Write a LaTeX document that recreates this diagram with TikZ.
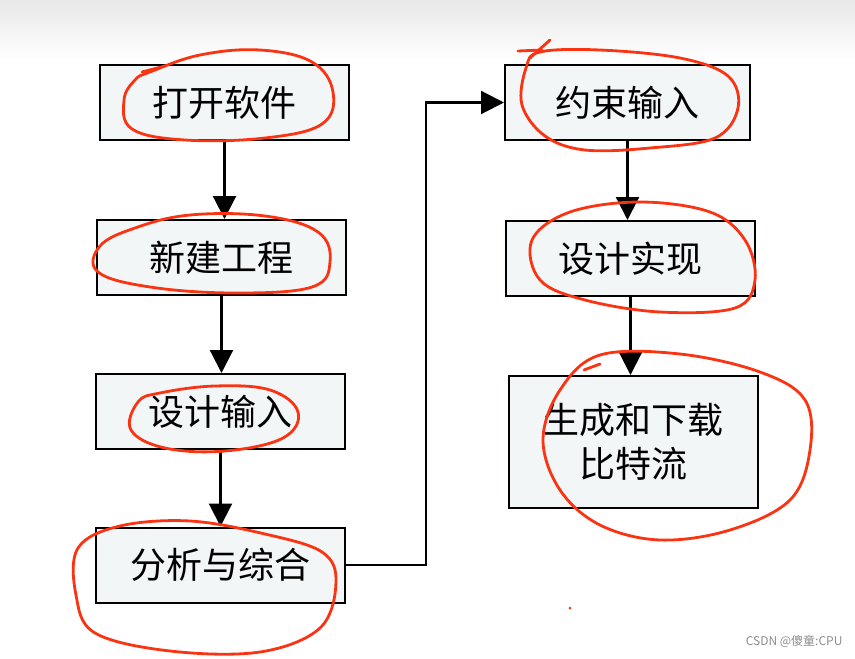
\documentclass[tikz,border=0pt]{standalone}
\usepackage{fontspec}
\setmainfont{Noto Sans CJK SC}
\newfontfamily\markfont{Noto Sans CJK SC}
\usetikzlibrary{positioning}
\usetikzlibrary{arrows.meta}
\tikzset{>={Triangle[width=23pt,length=23pt]}}
\definecolor{boxfill}{RGB}{243,246,247}
\definecolor{redink}{RGB}{250,52,18}
\definecolor{topgrey}{RGB}{232,232,232}

\begin{document}
\begin{tikzpicture}[x=1pt, y=-1pt,
    step box/.style={rectangle, draw=black, fill=boxfill, line width=2pt, minimum width=249pt, minimum height=75pt, font=\fontsize{36}{44}\selectfont, align=center},
    circling/.style={draw=redink, line width=2.8pt, line cap=round, line join=round},
    link/.style={->, line width=2.2pt} ]

    % page and grey band on top
    \useasboundingbox (0,0) rectangle (855,659);
    \shade[top color=topgrey, bottom color=white] (0,0) rectangle (855,60);

    %Nodes
    \node[step box] (open) at (224.5,102.5) {打开软件};
    \node[step box] (new_project) at (221.5,257.5) {新建工程};
    \node[step box] (design_input) at (220.5,411.5) {设计输入};
    \node[step box] (synthesis) at (220.5,565) {分析与综合};
    \node[step box, minimum width=245pt] (constraints) at (627.5,102.5) {约束输入};
    \node[step box] (implement) at (630.5,258.5) {设计实现};
    \node[step box, minimum height=132pt] (bitstream) at (633.5,442) {生成和下载\\比特流};

    %Lines
    \draw[link] (open.south) -- (open.south |- new_project.north);
    \draw[link] (new_project.south) -- (new_project.south |- design_input.north);
    \draw[link] (design_input.south) -- (design_input.south |- synthesis.north);
    \draw[link] (synthesis.east) -- ++(80,0) |- (constraints.west);
    \draw[link] (constraints.south) -- (constraints.south |- implement.north);
    \draw[link] (implement.south) -- (implement.south |- bitstream.north);

    % red marks
    \draw[circling] plot[smooth cycle, tension=0.65] coordinates {(150,72) (200,55) (260,50) (312,62) (333,92) (322,124) (265,138) (185,140) (132,129) (124,100) (135,80)};
    \draw[circling] (142,72) -- (165,66);
    \draw[circling] plot[smooth cycle, tension=0.65] coordinates {(135,228) (190,215) (265,216) (318,232) (330,262) (312,287) (235,293) (150,287) (98,272) (100,246)};
    \draw[circling] plot[smooth cycle, tension=0.65] coordinates {(160,393) (215,386) (270,390) (298,412) (283,438) (225,451) (165,448) (131,430) (138,402)};
    \draw[circling] plot[smooth cycle, tension=0.6] coordinates {(120,526) (190,521) (265,534) (322,552) (336,582) (320,628) (260,652) (170,651) (95,633) (76,595) (78,548)};
    \draw[circling] plot[smooth cycle, tension=0.6] coordinates {(540,52) (600,50) (680,58) (728,76) (738,108) (715,138) (650,148) (585,150) (545,136) (522,105) (526,68)};
    \draw[circling] (518,51) -- (542,50);
    \draw[circling] (530,58) -- (550,40);
    \draw[circling] plot[smooth cycle, tension=0.6] coordinates {(570,212) (640,202) (710,212) (745,240) (755,280) (735,308) (660,312) (585,300) (540,280) (532,240)};
    \draw[circling] plot[smooth cycle, tension=0.6] coordinates {(600,355) (680,354) (760,372) (805,400) (810,450) (790,500) (730,530) (660,540) (600,525) (560,490) (543,440) (560,390)};
    \draw[circling] (584,370) -- (600,364);
    \fill[redink] (570,608) circle (1.5pt);

    % watermark
    \node[font=\markfont\fontsize{12}{14}\selectfont, text=black!45, anchor=east] (mark) at (846,641) {CSDN @傻童:CPU};
    \end{tikzpicture}
\end{document}
